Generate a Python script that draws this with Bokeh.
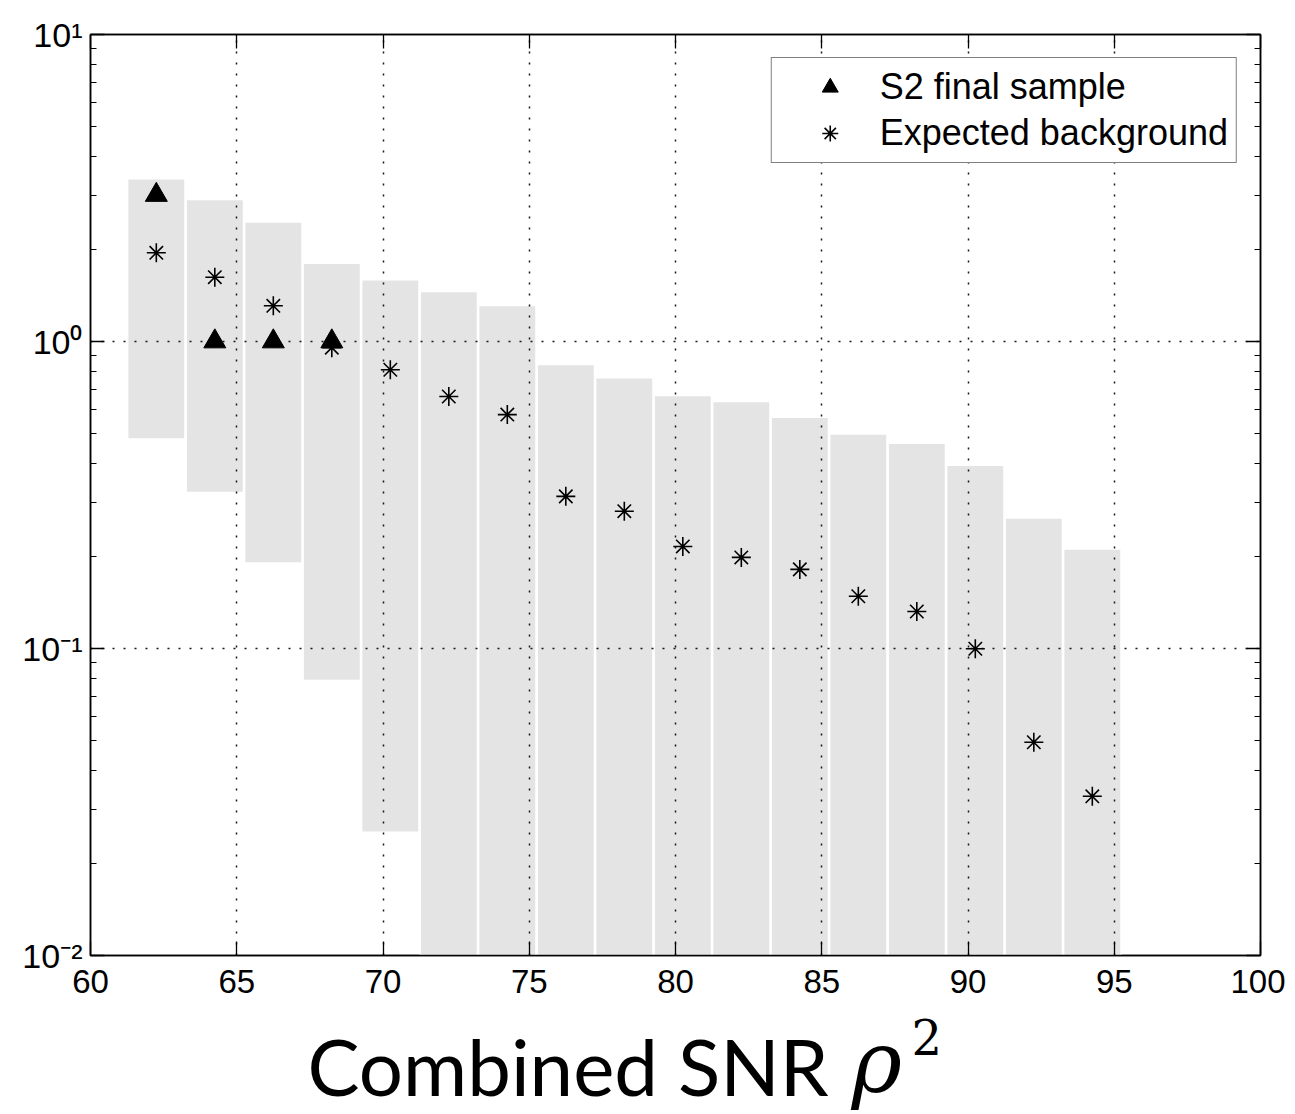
from bokeh.plotting import figure
from bokeh.layouts import column
from bokeh.models import (Range1d, LinearAxis, LogAxis, FixedTicker,
                          CustomJSTickFormatter, Legend, LegendItem)
from bokeh.core.properties import value
from bokeh.embed import file_html
from bokeh.resources import INLINE

# ---------------- data ----------------
bin_centers = [62.25, 64.25, 66.25, 68.25, 70.25, 72.25, 74.25, 76.25, 78.25,
               80.25, 82.25, 84.25, 86.25, 88.25, 90.25, 92.25, 94.25]
bin_width = 1.96
band_upper = [3.39, 2.90, 2.45, 1.80, 1.59, 1.455, 1.31, 0.842, 0.762,
              0.667, 0.638, 0.567, 0.50, 0.466, 0.395, 0.266, 0.211]
# lower edge of band (values below 1e-2 run off the bottom of the axis)
band_lower = [0.481, 0.322, 0.19, 0.0787, 0.0252, 0.001, 0.001, 0.001, 0.001,
              0.001, 0.001, 0.001, 0.001, 0.001, 0.001, 0.001, 0.001]
expected_bg = [1.945, 1.62, 1.307, 0.955, 0.809, 0.662, 0.578, 0.313, 0.280,
               0.215, 0.198, 0.181, 0.148, 0.132, 0.0998, 0.0495, 0.033]
s2_x = [62.25, 64.25, 66.25, 68.25]
s2_counts = [3, 1, 1, 1]

x_ticks = [60, 65, 70, 75, 80, 85, 90, 95, 100]
y_ticks = [0.01, 0.1, 1, 10]
y_minor = [m * d for d in [0.01, 0.1, 1] for m in range(2, 10)]

title_parts = ["Combined SNR", "\u03c1", "2"]

TICK_FONT = "Liberation Sans"
BL, BR, FW = 90, 25, 1170

p = figure(x_range=Range1d(60, 100), y_range=Range1d(0.01, 10),
           y_axis_type="log", output_backend="svg", toolbar_location=None,
           frame_width=FW, frame_height=921,
           min_border_left=BL, min_border_right=BR,
           min_border_top=34, min_border_bottom=56,
           background_fill_color="white", border_fill_color="white")
p.title.visible = False
p.outline_line_color = "black"
p.outline_line_width = 1.5

# grey bands
bars = p.vbar(x=bin_centers, width=bin_width, top=band_upper, bottom=band_lower,
              fill_color="#e4e4e4", line_color="white", line_width=1.5)
bars.level = "image"

bg = p.scatter(x=bin_centers, y=expected_bg, marker="asterisk", size=19,
               line_color="black", line_width=1.6)
s2 = p.scatter(x=s2_x, y=s2_counts, marker="triangle", size=22,
               fill_color="black", line_color="black")

sup_code = """
const sup = {"-":"\u207b","0":"\u2070","1":"\u00b9","2":"\u00b2","3":"\u00b3",
             "4":"\u2074","5":"\u2075","6":"\u2076","7":"\u2077","8":"\u2078","9":"\u2079"};
const e = Math.round(Math.log10(tick));
return "10" + String(e).split("").map(c => sup[c]).join("");
"""

def style_axis(ax, labels=True):
    ax.axis_line_color = "black"
    ax.axis_line_width = 1.5
    ax.major_tick_line_color = "black"
    ax.minor_tick_line_color = "black"
    ax.major_tick_line_width = 1.3
    ax.major_tick_in = 14
    ax.major_tick_out = 0
    ax.minor_tick_in = 6
    ax.minor_tick_out = 0
    ax.major_label_text_font = TICK_FONT
    ax.major_label_text_font_size = "33px"
    ax.major_label_text_color = "black"
    if not labels:
        ax.formatter = CustomJSTickFormatter(code="return ''")
        ax.major_label_text_font_size = "1px"
        ax.major_label_standoff = 0

xt = FixedTicker(ticks=x_ticks, minor_ticks=[])
yt = FixedTicker(ticks=y_ticks, minor_ticks=y_minor)

p.xaxis.ticker = xt
p.yaxis.ticker = yt
p.yaxis.formatter = CustomJSTickFormatter(code=sup_code)
style_axis(p.xaxis[0])
style_axis(p.yaxis[0])
p.yaxis.major_label_text_font_size = "34px"
p.xaxis.major_label_standoff = 14
p.yaxis.major_label_standoff = 8

top_ax = LinearAxis(ticker=FixedTicker(ticks=x_ticks, minor_ticks=[]))
style_axis(top_ax, labels=False)
p.add_layout(top_ax, "above")
right_ax = LogAxis(ticker=FixedTicker(ticks=y_ticks, minor_ticks=y_minor))
style_axis(right_ax, labels=False)
p.add_layout(right_ax, "right")

for g in (p.xgrid[0], p.ygrid[0]):
    g.grid_line_color = "black"
    g.grid_line_width = 1.5
    g.grid_line_dash = "2 9"
    g.grid_line_alpha = 0.9
p.xgrid.ticker = xt
p.ygrid.ticker = yt

legend = Legend(items=[LegendItem(label="S2 final sample", renderers=[s2]),
                       LegendItem(label="Expected background", renderers=[bg])],
                location="top_right", margin=23, padding=8, spacing=4,
                glyph_width=100, glyph_height=40, label_height=40,
                label_standoff=0,
                label_text_font=TICK_FONT, label_text_font_size="36px",
                label_text_color="black",
                border_line_color="black", border_line_width=1.5,
                background_fill_alpha=1.0)
p.add_layout(legend)

# x-axis title strip: separate svg figure, same horizontal frame as the plot,
# x range expressed in page pixels so the text sits where the reference has it
H2 = 102
t = figure(frame_width=FW, frame_height=H2,
           x_range=Range1d(BL, BL + FW), y_range=Range1d(0, H2),
           output_backend="svg", toolbar_location=None,
           min_border_left=BL, min_border_right=BR,
           min_border_top=0, min_border_bottom=0,
           x_axis_location=None, y_axis_location=None)
t.title.visible = False
t.outline_line_color = None
t.xgrid.visible = False
t.ygrid.visible = False
t.text(x=[307], y=[48], text=[title_parts[0]], text_font=value("Lato"),
       text_font_size="78px", text_baseline="alphabetic", text_color="black")
t.text(x=[851], y=[52], text=[title_parts[1]], text_font=value("DejaVu Serif"),
       text_font_style="italic", text_font_size="86px",
       text_baseline="alphabetic", text_color="black")
t.text(x=[911], y=[77], text=[title_parts[2]], text_font=value("DejaVu Serif"),
       text_font_size="48px", text_baseline="alphabetic", text_color="black")

layout = column(p, t, spacing=0)
open("out.html", "w").write(file_html(layout, INLINE))
